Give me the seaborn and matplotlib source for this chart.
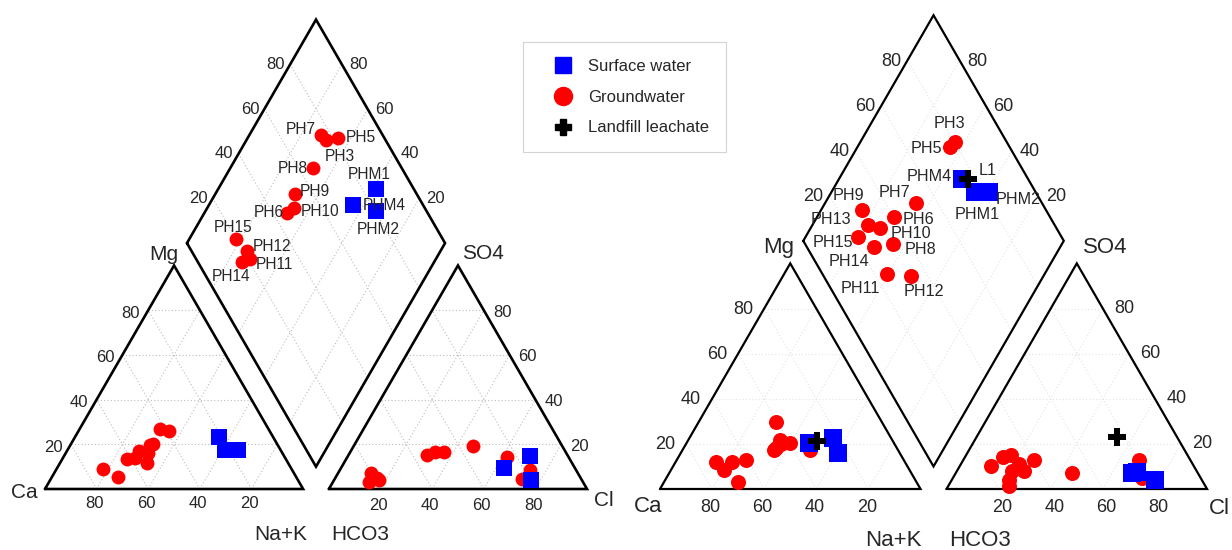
import numpy as np
import pandas as pd
import matplotlib
matplotlib.use("Agg")
import matplotlib.pyplot as plt
from matplotlib.lines import Line2D
import seaborn as sns

# ---- left diagram: % of cations (Mg, Na+K) and anions (SO4, Cl) ----
left_names = ["PH3", "PH5", "PH6", "PH7", "PH8", "PH9", "PH10", "PH11",
              "PH12", "PH14", "PH15", "PHM1", "PHM2", "PHM4"]
left_types = ["Groundwater"] * 11 + ["Surface water"] * 3
left_mg = [27, 26, 20, 17, 16, 19.5, 11.5, 14, 13.5, 5.5, 9, 17.5, 17.5, 23.4]
left_nak = [31, 35, 32, 28, 32, 31, 33.7, 28, 25, 25.4, 18, 61, 66, 55.7]
left_so4 = [4.5, 8.5, 15.2, 14.5, 19.4, 16.7, 16.7, 5, 4, 3, 7, 14.7, 4, 9.5]
left_cl = [72.5, 73.7, 30.5, 61.7, 46.2, 36.2, 32.6, 16, 17.5, 14, 13, 70.7, 76.2, 63.2]

# ---- right diagram ----
right_names = ["PH3", "PH5", "PH6", "PH7", "PH8", "PH9", "PH10", "PH11",
               "PH12", "PH13", "PH14", "PH15", "PHM1", "PHM2", "PHM4", "L1"]
right_types = ["Groundwater"] * 12 + ["Surface water"] * 3 + ["Landfill leachate"]
right_mg = [20, 18, 29.8, 17.3, 21.7, 11.8, 12.9, 20.3, 17.3, 12.1, 3.2, 8.4, 22.5, 16.1, 20.3, 21.4]
right_nak = [36.3, 35.4, 29.5, 35, 35.2, 15.6, 26.5, 39.6, 49, 21.5, 28.4, 20.2, 55, 60.4, 47.1, 49.7]
right_so4 = [13, 4.7, 13, 7, 8, 8, 15, 1.5, 11, 14, 4, 10, 7.5, 4, 7, 23.2]
right_cl = [67.2, 72.5, 27.2, 44.6, 25.9, 21.3, 17.1, 23.4, 22.5, 14.5, 21.8, 12, 69.3, 78.2, 67.5, 53.8]

ticks = [20, 40, 60, 80]
legend_labels = ["Surface water", "Groundwater", "Landfill leachate"]

# label placement in the diamond (pixel offset, alignment)
left_label_pos = {
    "PH7": (-6, 6, "right"), "PH5": (8, 0, "left"), "PH3": (-2, -16, "left"),
    "PH8": (-5, 0, "right"), "PH9": (5, 3, "left"), "PH6": (-3, 0, "right"),
    "PH10": (7, -3, "left"), "PH15": (-3, 11, "center"), "PH12": (6, 4, "left"),
    "PH11": (6, -6, "left"), "PH14": (-11, -15, "center"),
    "PHM1": (-7, 14, "center"), "PHM4": (10, 0, "left"), "PHM2": (3, -18, "center"),
}
right_label_pos = {
    "PH3": (-6, 18, "center"), "PH5": (-8, -2, "right"), "PHM4": (-10, 3, "right"),
    "L1": (10, 9, "left"), "PHM2": (7, -8, "left"), "PHM1": (2, -23, "center"),
    "PH7": (-22, 11, "center"), "PH9": (-13, 14, "center"), "PH13": (-17, 6, "right"),
    "PH6": (9, -3, "left"), "PH10": (11, -5, "left"), "PH15": (-5, -6, "right"),
    "PH14": (-25, -15, "center"), "PH8": (11, -6, "left"),
    "PH11": (-27, -14, "center"), "PH12": (13, -16, "center"),
}

GAP = 10
H = np.sqrt(3) / 2

left_style = dict(origin=(45, 489), scale=2.581, span=(0, 616), lw=1.9, grid="#bdbdbd",
                  tick_fs=12, name_fs=15, lab_fs=11.2,
                  sizes={"Groundwater": 100, "Surface water": 121, "Landfill leachate": 150},
                  t_mg=(-8, -3, "right"), t_ca=(-2, -15, "center"), t_cl=(-2, -17, "center"),
                  t_so4=(9, -2, "left"), t_dl=(-5, 0, "right"), t_dr=(7, 0, "left"),
                  n_ca=(-7, -4, "right"), n_mg=(-10, 11, "center"), n_nak=(-22, -46, "center"),
                  n_hco3=(31, -46, "center"), n_so4=(25, 12, "center"), n_cl=(7, -11, "left"))
right_style = dict(origin=(660, 489), scale=2.605, span=(616, 1232), lw=1.6, grid="#e4e4e4",
                   tick_fs=13, name_fs=16, lab_fs=11.6,
                   sizes={"Groundwater": 117, "Surface water": 150, "Landfill leachate": 150},
                   t_mg=(-11, -1, "right"), t_ca=(-1.5, -18, "center"), t_cl=(3.5, -18, "center"),
                   t_so4=(11.5, 0, "left"), t_dl=(-6, -1, "right"), t_dr=(8, -1, "left"),
                   n_ca=(2, -17, "right"), n_mg=(-12, 16, "center"), n_nak=(-27, -51, "center"),
                   n_hco3=(33, -51, "center"), n_so4=(28, 16, "center"), n_cl=(2, -20, "left"))

markers = {"Groundwater": ("o", "#ff0000"), "Surface water": ("s", "#0000ff"),
           "Landfill leachate": ("P", "black")}


def cation_xy(mg, nak):
    return nak + mg / 2, mg * H


def anion_xy(so4, cl):
    return 100 + GAP + cl + so4 / 2, so4 * H


def diamond_xy(nak, so4cl):
    x0, y0 = (100 + GAP) / 2, (100 + GAP) * H
    return x0 + 0.5 * (nak + so4cl), y0 + H * (so4cl - nak)


def put(ax, text, x, y, spec, fs):
    dx, dy, ha = spec
    ax.annotate(text, (x, y), xytext=(dx, dy), textcoords="offset pixels",
                ha=ha, va="center", fontsize=fs)


def draw_piper(fig, names, types, mg, nak, so4, cl, label_pos, st):
    ox, oy = st["origin"]
    k = st["scale"]
    x0, x1 = st["span"]
    ax = fig.add_axes([x0 / 1232, 0, (x1 - x0) / 1232, 1])
    ax.set_xlim((x0 - ox) / k, (x1 - ox) / k)
    ax.set_ylim(-(550 - oy) / k, oy / k)
    ax.axis("off")

    gkw = dict(color=st["grid"], lw=0.8, ls=(0, (1, 2)), zorder=1)
    for v in ticks:
        for sx in (0, 100 + GAP):
            ax.plot([sx + v / 2, sx + 100 - v / 2], [v * H, v * H], **gkw)
            ax.plot([sx + v, sx + v + (100 - v) / 2], [0, (100 - v) * H], **gkw)
            ax.plot([sx + 100 - v, sx + (100 - v) / 2], [0, (100 - v) * H], **gkw)
        ax.plot(*zip(diamond_xy(v, 0), diamond_xy(v, 100)), **gkw)
        ax.plot(*zip(diamond_xy(0, v), diamond_xy(100, v)), **gkw)

    okw = dict(color="black", lw=st["lw"], zorder=2, solid_joinstyle="miter")
    for sx in (0, 100 + GAP):
        ax.plot([sx, sx + 100, sx + 50, sx], [0, 0, 100 * H, 0], **okw)
    corners = [diamond_xy(0, 0), diamond_xy(100, 0), diamond_xy(100, 100),
               diamond_xy(0, 100), diamond_xy(0, 0)]
    ax.plot(*zip(*corners), **okw)

    fs = st["tick_fs"]
    for v in ticks:
        put(ax, str(v), *cation_xy(v, 0), st["t_mg"], fs)
        put(ax, str(v), 100 - v, 0, st["t_ca"], fs)
        put(ax, str(v), *anion_xy(0, v), st["t_cl"], fs)
        put(ax, str(v), *anion_xy(v, 100 - v), st["t_so4"], fs)
        put(ax, str(v), *diamond_xy(0, v), st["t_dl"], fs)
        put(ax, str(v), *diamond_xy(100 - v, 100), st["t_dr"], fs)

    nf = st["name_fs"]
    put(ax, "Ca", 0, 0, st["n_ca"], nf)
    put(ax, "Mg", 50, 100 * H, st["n_mg"], nf)
    put(ax, "Na+K", 100, 0, st["n_nak"], nf)
    put(ax, "HCO3", 100 + GAP, 0, st["n_hco3"], nf)
    put(ax, "SO4", 150 + GAP, 100 * H, st["n_so4"], nf)
    put(ax, "Cl", 200 + GAP, 0, st["n_cl"], nf)

    df = pd.DataFrame({"name": names, "type": types, "mg": mg, "nak": nak,
                       "so4": so4, "cl": cl})
    df["cx"], df["cy"] = cation_xy(df["mg"], df["nak"])
    df["ax"], df["ay"] = anion_xy(df["so4"], df["cl"])
    df["dx"], df["dy"] = diamond_xy(df["nak"], df["so4"] + df["cl"])

    for grp in ["Groundwater", "Surface water", "Landfill leachate"]:
        sub = df[df["type"] == grp]
        if sub.empty:
            continue
        m, c = markers[grp]
        for px, py in [("cx", "cy"), ("ax", "ay"), ("dx", "dy")]:
            sns.scatterplot(data=sub, x=px, y=py, marker=m, color=c, s=st["sizes"][grp],
                            linewidth=0, ax=ax, legend=False, zorder=3)

    for _, r in df.iterrows():
        put(ax, r["name"], r["dx"], r["dy"], label_pos[r["name"]], st["lab_fs"])
    return ax


sns.set_theme(style="white")
plt.rcParams["font.family"] = ["Liberation Sans", "DejaVu Sans"]

fig = plt.figure(figsize=(12.32, 5.5), dpi=100)
draw_piper(fig, left_names, left_types, left_mg, left_nak, left_so4, left_cl,
           left_label_pos, left_style)
draw_piper(fig, right_names, right_types, right_mg, right_nak, right_so4, right_cl,
           right_label_pos, right_style)

handles = [Line2D([], [], ls="", marker="s", color="#0000ff", markersize=12),
           Line2D([], [], ls="", marker="o", color="#ff0000", markersize=13),
           Line2D([], [], ls="", marker="P", color="black", markersize=12)]
leg = fig.legend(handles, legend_labels, loc="upper left",
                 bbox_to_anchor=(523 / 1232, 1 - 42 / 550), fontsize=12,
                 frameon=True, fancybox=False, borderpad=1.0, labelspacing=0.95,
                 handlelength=2.8, handletextpad=0.1, borderaxespad=0)
leg.get_frame().set_edgecolor("#c8c8c8")
leg.get_frame().set_linewidth(0.8)

fig.savefig("out.png", dpi=100)
